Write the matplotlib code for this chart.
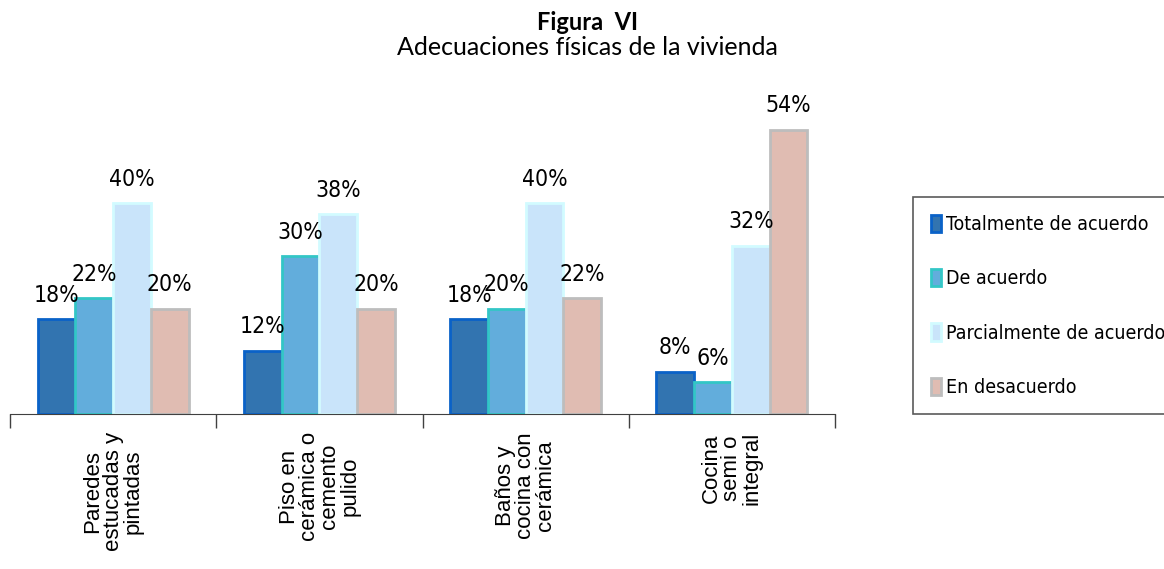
import numpy as np
import matplotlib.pyplot as plt

# data
categories = ['Paredes\nestucadas y\npintadas', 'Piso en\ncerámica o\ncemento\npulido',
              'Baños y\ncocina con\ncerámica', 'Cocina\nsemi o\nintegral']
series = ['Totalmente de acuerdo', 'De acuerdo', 'Parcialmente de acuerdo', 'En desacuerdo']
totalmente = [18, 12, 18, 8]
de_acuerdo = [22, 30, 20, 6]
parcial = [40, 38, 40, 32]
desacuerdo = [20, 20, 22, 54]

values = [totalmente, de_acuerdo, parcial, desacuerdo]
faces = ['#3274b0', '#62addc', '#c9e4fa', '#e0bcb2']
edges = ['#0a62c8', '#33c6c6', '#d2fbff', '#bdbdbd']

narrow = dict(family='DejaVu Sans', stretch='condensed')

fig = plt.figure(figsize=(11.64, 5.69), dpi=100)
ax = fig.add_axes([0.0086, 0.2724, 0.7088, 0.555])

x = np.arange(len(categories))
w = 0.183
for i in range(4):
    pos = x + (i - 1.5) * w
    bars = ax.bar(pos, values[i], w, color=faces[i], edgecolor=edges[i],
                  linewidth=2, label=series[i])
    for b, v in zip(bars, values[i]):
        ax.annotate(f'{v}%', (b.get_x() + b.get_width() / 2, v),
                    xytext=(0, 9), textcoords='offset points',
                    ha='center', va='bottom', fontsize=16.5, **narrow)

ax.set_xlim(-0.5, 3.5)
ax.set_ylim(0, 60)
for s in ['top', 'right', 'left']:
    ax.spines[s].set_visible(False)
ax.spines['bottom'].set_color('#404040')
ax.set_yticks([])

ax.set_xticks(x)
ax.set_xticklabels(categories, rotation=90, fontsize=16, family='Liberation Sans',
                   multialignment='center', va='top', ha='center', linespacing=0.95)
ax.tick_params(axis='x', which='major', length=0, pad=13)
ax.set_xticks(np.arange(-0.5, 4, 1), minor=True)
ax.tick_params(axis='x', which='minor', length=10, width=1, color='#404040')

leg = ax.legend(loc='upper left', bbox_to_anchor=(1.0945, 0.687), frameon=True,
                fancybox=False, edgecolor='#303030',
                prop={'family': 'DejaVu Sans', 'stretch': 'condensed', 'size': 14},
                handlelength=0.55, handleheight=1.0, handletextpad=0.25,
                labelspacing=1.8, borderpad=0.9, borderaxespad=0)
leg.get_frame().set_linewidth(1.2)

fig.text(0.505, 0.961, 'Figura  VI', ha='center', va='center', fontsize=17,
         fontweight='bold', family='Lato')
fig.text(0.505, 0.917, 'Adecuaciones físicas de la vivienda', ha='center', va='center',
         fontsize=18, family='Lato')

fig.savefig('out.png', dpi=100)
